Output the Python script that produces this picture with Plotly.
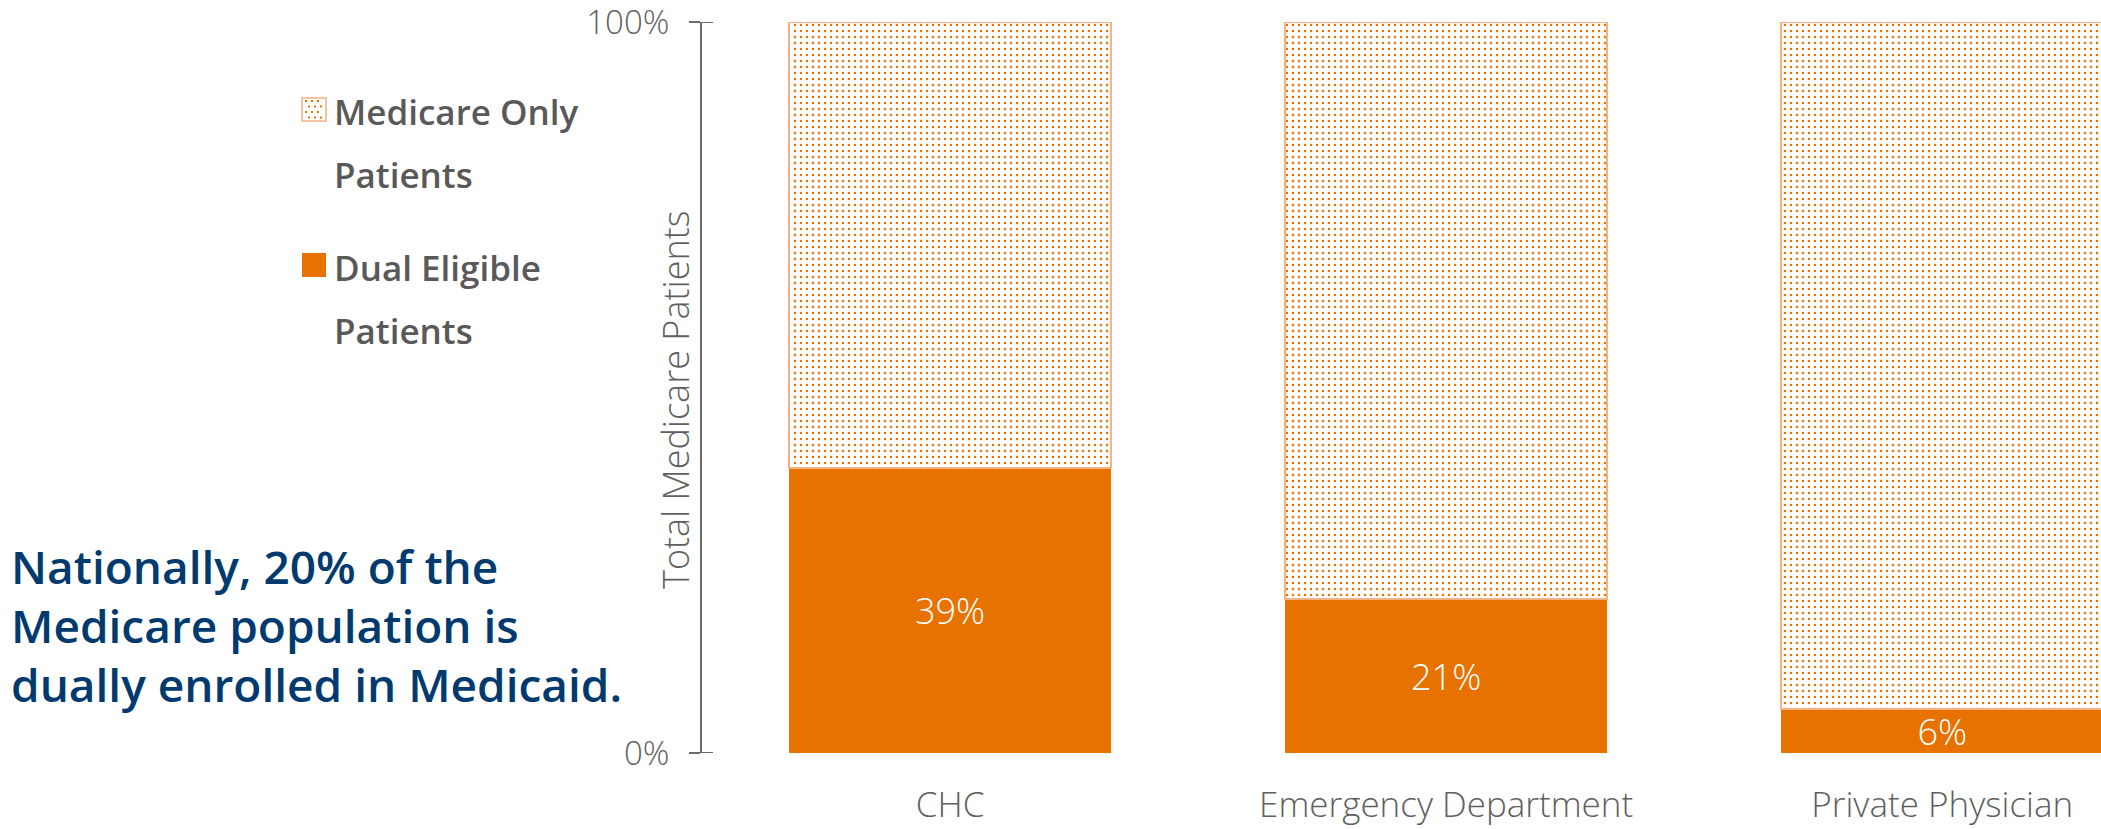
import plotly.graph_objects as go

# ---- data ----
categories = ["CHC", "Emergency Department", "Private Physician"]
dual_eligible = [39, 21, 6]          # % of Medicare patients who are dual eligible
medicare_only = [61, 79, 94]         # % of Medicare patients with Medicare only
y_tick_values = [0, 100]
y_tick_labels = ["0%", "100%"]

# ---- style ----
ORANGE = "#E87200"
LIGHT_ORANGE = "#F4B183"
AXIS_GREY = "#6B6B6B"
TEXT_GREY = "#5F5F5F"
LEGEND_GREY = "#595959"
NAVY = "#003A6E"
FONT = "Open Sans"

W, H = 2101, 829
M_L, M_R, M_T, M_B = 702, 0, 22, 76
PLOT_W = W - M_L - M_R
PLOT_H = H - M_T - M_B


def px_x(x):
    """Pixel column -> paper x."""
    return (x - M_L) / PLOT_W


def px_y(y):
    """Pixel row -> paper y."""
    return (H - M_B - y) / PLOT_H


fig = go.Figure()

fig.add_trace(go.Bar(
    x=categories,
    y=dual_eligible,
    name="Dual Eligible Patients",
    width=0.649,
    marker=dict(color=ORANGE, line=dict(width=0)),
    text=[f"{v}%" for v in dual_eligible],
    textposition="inside",
    insidetextanchor="middle",
    textfont=dict(family=FONT, size=36, color="white", weight=300),
    showlegend=False,
))

fig.add_trace(go.Bar(
    x=categories,
    y=medicare_only,
    name="Medicare Only Patients",
    width=0.649,
    marker=dict(
        color="white",
        line=dict(color=LIGHT_ORANGE, width=2),
        pattern=dict(shape=".", fgcolor=ORANGE, bgcolor="white",
                     size=6, solidity=0.13, fillmode="replace"),
    ),
    showlegend=False,
))

# ---- custom legend: swatches + labels ----
shapes = []
annotations = []

sw_x0, sw_x1 = 302, 326
legend_items = [
    # (swatch top, swatch bottom, text line rows, lines, patterned)
    (98, 121, [111, 174], ["Medicare Only", "Patients"], True),
    (253, 277, [267, 330], ["Dual Eligible", "Patients"], False),
]
for top, bot, rows, lines, patterned in legend_items:
    if patterned:
        shapes.append(dict(type="rect", xref="paper", yref="paper",
                           x0=px_x(sw_x0), x1=px_x(sw_x1),
                           y0=px_y(bot), y1=px_y(top),
                           fillcolor="white",
                           line=dict(color=LIGHT_ORANGE, width=1.5)))
        # staggered dot texture inside the swatch
        for r in range(4):
            yy = top + 3 + r * 5.5
            offset = 0 if r % 2 == 0 else 3
            for c in range(4):
                xx = sw_x0 + 4 + offset + c * 6
                if xx > sw_x1 - 3:
                    continue
                shapes.append(dict(type="rect", xref="paper", yref="paper",
                                   x0=px_x(xx - 1), x1=px_x(xx + 1),
                                   y0=px_y(yy + 1), y1=px_y(yy - 1),
                                   fillcolor=ORANGE, line=dict(width=0)))
    else:
        shapes.append(dict(type="rect", xref="paper", yref="paper",
                           x0=px_x(sw_x0), x1=px_x(sw_x1),
                           y0=px_y(bot), y1=px_y(top),
                           fillcolor=ORANGE, line=dict(width=0)))
    for row, line in zip(rows, lines):
        annotations.append(dict(
            xref="paper", yref="paper", x=px_x(332), y=px_y(row),
            xanchor="left", yanchor="middle", showarrow=False,
            text=line,
            font=dict(family=FONT, size=35, color=LEGEND_GREY, weight=600),
        ))

# ---- callout text ----
callout_lines = ["Nationally, 20% of the",
                 "Medicare population is",
                 "dually enrolled in Medicaid."]
callout_rows = [566, 625, 684]
for row, line in zip(callout_rows, callout_lines):
    annotations.append(dict(
        xref="paper", yref="paper", x=px_x(9), y=px_y(row),
        xanchor="left", yanchor="middle", showarrow=False,
        text=line,
        font=dict(family=FONT, size=46, color=NAVY, weight=600),
    ))

# ---- y-axis title ----
annotations.append(dict(
    xref="paper", yref="paper", x=px_x(675), y=px_y(400),
    xanchor="center", yanchor="middle", showarrow=False,
    textangle=-90, text="Total Medicare Patients",
    font=dict(family=FONT, size=36, color=TEXT_GREY, weight=300),
))

# tick marks crossing the axis line (inner half)
for v in y_tick_values:
    shapes.append(dict(type="line", xref="x domain", yref="y",
                       x0=0, x1=11 / PLOT_W, y0=v, y1=v,
                       line=dict(color=AXIS_GREY, width=2)))

fig.update_layout(
    width=W, height=H,
    margin=dict(l=M_L, r=M_R, t=M_T, b=M_B, autoexpand=False),
    barmode="stack",
    plot_bgcolor="white",
    paper_bgcolor="white",
    shapes=shapes,
    annotations=annotations,
    uniformtext=dict(minsize=36, mode="show"),
    xaxis=dict(
        range=[-0.5, 2.32],
        showline=False, showgrid=False, zeroline=False,
        ticks="", ticklabelstandoff=28, ticklabeloverflow="allow",
        tickfont=dict(family=FONT, size=35, color=TEXT_GREY, weight=300),
    ),
    yaxis=dict(
        range=[0, 100],
        tickvals=y_tick_values, ticktext=y_tick_labels,
        showline=True, linecolor=AXIS_GREY, linewidth=2,
        ticks="outside", ticklen=11, tickwidth=2, tickcolor=AXIS_GREY,
        ticklabelstandoff=13, ticklabeloverflow="allow",
        showgrid=False, zeroline=False,
        tickfont=dict(family=FONT, size=33, color=TEXT_GREY, weight=300),
    ),
)

fig.write_html("out.html")
